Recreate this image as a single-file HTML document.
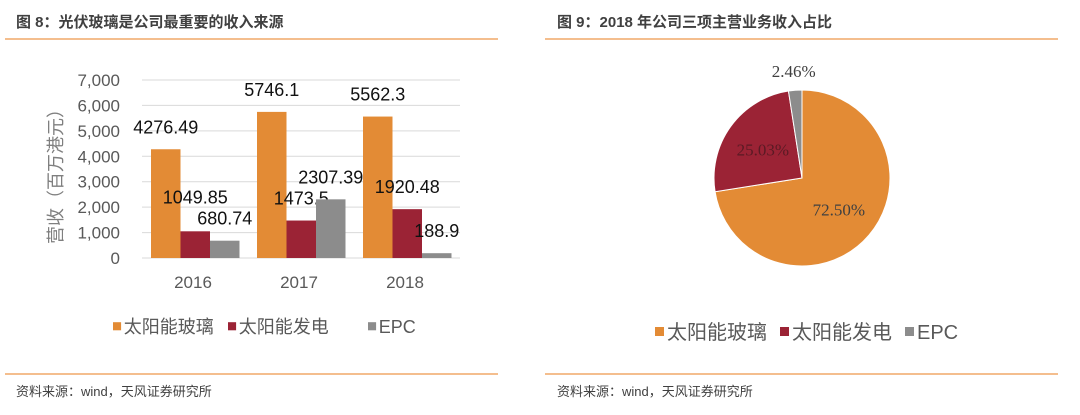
<!DOCTYPE html>
<html><head><meta charset="utf-8">
<style>
body{margin:0;width:1080px;height:415px;background:#fff;overflow:hidden;font-family:"Liberation Sans","Noto Sans CJK SC",sans-serif;}
svg{position:absolute;left:0;top:0}
</style></head><body>
<svg width="1080" height="415">
<text x="16" y="27" font-size="15" font-weight="bold" fill="#404040">图 8：光伏玻璃是公司最重要的收入来源</text>
<text x="557" y="27" font-size="15" font-weight="bold" fill="#404040">图 9：2018 年公司三项主营业务收入占比</text>
<line x1="5" y1="39" x2="498" y2="39" stroke="#F0A868" stroke-width="1.5"/>
<line x1="545" y1="39" x2="1058" y2="39" stroke="#F0A868" stroke-width="1.5"/>
<line x1="5" y1="374" x2="498" y2="374" stroke="#F0A868" stroke-width="1.5"/>
<line x1="545" y1="374" x2="1058" y2="374" stroke="#F0A868" stroke-width="1.5"/>
<text x="16" y="396" font-size="13" fill="#404040">资料来源：wind，天风证券研究所</text>
<text x="557" y="396" font-size="13" fill="#404040">资料来源：wind，天风证券研究所</text>
<g id="bar"></g>
<g id="pie"></g>
<text transform="translate(62,172) rotate(-90)" text-anchor="middle" font-size="18" fill="#7f7f7f">营收（百万港元）</text>
</svg>
<script>
const years=["2016","2017","2018"];
const glass=[4276.49,5746.1,5562.3];
const power=[1049.85,1473.5,1920.48];
const epc=[680.74,2307.39,188.9];
const glassLabels=["4276.49","5746.1","5562.3"];
const powerLabels=["1049.85","1473.5","1920.48"];
const epcLabels=["680.74","2307.39","188.9"];
const yTicks=[0,1000,2000,3000,4000,5000,6000,7000];
const yTickLabels=["0","1,000","2,000","3,000","4,000","5,000","6,000","7,000"];
const seriesNames=["太阳能玻璃","太阳能发电","EPC"];
const pieValues=[72.50,25.03,2.46];
const pieLabels=["72.50%","25.03%","2.46%"];
const colors=["#E38B35","#9B2335","#8C8C8C"];
const NS="http://www.w3.org/2000/svg";
function mk(p,t,a){const e=document.createElementNS(NS,t);for(const k in a)e.setAttribute(k,a[k]);p.appendChild(e);return e;}
const bar=document.getElementById('bar');
const x0=142,x1=460,y0=258,yMax=7000,ph=178;
const y=v=>y0-v/yMax*ph;
const gw=(x1-x0)/years.length,bw=29.5;
yTicks.forEach((t,i)=>{
 const l=mk(bar,'line',{x1:x0,x2:x1,y1:y(t),y2:y(t),stroke:'#d9d9d9','stroke-width':1});
 
 
 const tx=mk(bar,'text',{x:120,y:y(t)+6,'text-anchor':'end','font-size':17,fill:'#595959'});
 tx.textContent=yTickLabels[i];
 
 
});
const series=[glass,power,epc],labs=[glassLabels,powerLabels,epcLabels];
years.forEach((yr,i)=>{
 const gx=x0+i*gw+9;
 series.forEach((s,j)=>{
  const bx=gx+j*bw;
  const r=mk(bar,'rect',{x:bx,y:y(s[i]),width:bw,height:y0-y(s[i]),fill:colors[j]});
  
  
  const off=(i===0&&j===1)?28:16;
  const t=mk(bar,'text',{x:bx+bw/2,y:y(s[i])-off,'text-anchor':'middle','font-size':18,fill:'#111'});
  t.textContent=labs[j][i];
  
  
 });
 const xt=mk(bar,'text',{x:x0+i*gw+gw/2-2,y:288,'text-anchor':'middle','font-size':17,fill:'#595959'});
 xt.textContent=yr;
 
 
});
function legend(parent,lx,ly,fs,gaps){
 let cx=lx;
 seriesNames.forEach((n,j)=>{
  const s=mk(parent,'rect',{x:cx,y:ly-fs*0.6,width:fs*0.45,height:fs*0.45,fill:colors[j]});
  
  
  const t=mk(parent,'text',{x:cx+fs*0.6,y:ly,'font-size':fs,fill:'#595959'});
  t.textContent=n;
  
  
  cx+=gaps[j];
 });
}
legend(bar,113,333,18,[115,140,0]);
const pie=document.getElementById('pie');
const cx=802,cy=178,R=88;
const tot=pieValues.reduce((a,b)=>a+b,0);
let a=-Math.PI/2;
const labelR=[0.55,0.55,1.22];
pieValues.forEach((v,i)=>{
 const da=v/tot*2*Math.PI,a2=a+da;
 const p=mk(pie,'path',{d:`M${cx},${cy}L${cx+R*Math.cos(a)},${cy+R*Math.sin(a)}A${R},${R} 0 ${da>Math.PI?1:0} 1 ${cx+R*Math.cos(a2)},${cy+R*Math.sin(a2)}Z`,fill:colors[i],stroke:'#fff','stroke-width':1});
 
 
 const m=(a+a2)/2;
 const t=mk(pie,'text',{x:cx+R*labelR[i]*Math.cos(m),y:cy+R*labelR[i]*Math.sin(m)+6,'text-anchor':'middle','font-size':17,'font-family':'"Liberation Serif",serif',fill:i==1?'#5a1a24':'#404040'});
 t.textContent=pieLabels[i];
 
 
 a=a2;
});
legend(pie,655,339,20,[125,125,0]);
</script>
</body></html>
